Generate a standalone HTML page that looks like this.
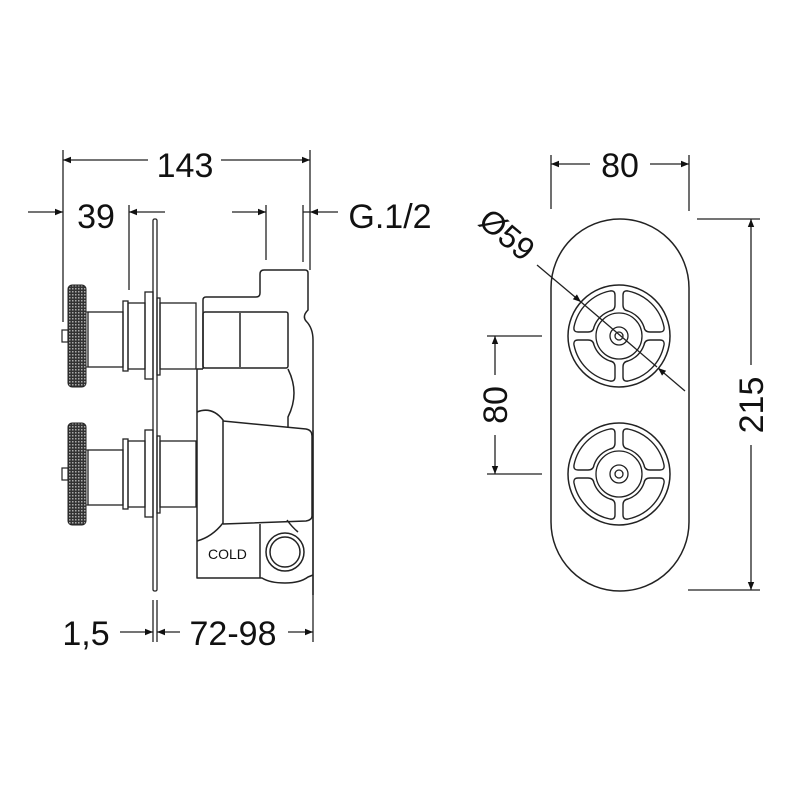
<!DOCTYPE html>
<html><head><meta charset="utf-8"><style>
html,body{margin:0;padding:0;background:#fff;}
svg{display:block;}
text{font-family:"Liberation Sans","DejaVu Sans",sans-serif;fill:#111;}
</style></head><body>
<svg width="800" height="801" viewBox="0 0 800 801" xmlns="http://www.w3.org/2000/svg">
<defs>
<marker id="ar" viewBox="0 0 10 10" refX="10" refY="5" markerWidth="12" markerHeight="8" markerUnits="userSpaceOnUse" orient="auto"><path d="M0,1 L10,5 L0,9 z" fill="#111"/></marker>
<pattern id="kn" width="3" height="3" patternUnits="userSpaceOnUse"><rect width="3" height="3" fill="#333"/><rect x="0" y="0" width="1.5" height="1.5" fill="#aaa"/></pattern>
<g id="win">
<path d="M4,-31 L4,-41 Q4,-45.8 9,-45 A46,46 0 0 1 45,-9 Q45.8,-4 41,-4 L31,-4 Q25.7,-4 25,-9 A26,26 0 0 0 9,-25 Q4,-25.7 4,-31 Z" fill="none" stroke="#222" stroke-width="1.4" stroke-linejoin="round"/>
</g>
<g id="wheel">
<circle r="51" fill="none" stroke="#222" stroke-width="1.5"/>
<use href="#win"/>
<use href="#win" transform="rotate(90)"/>
<use href="#win" transform="rotate(180)"/>
<use href="#win" transform="rotate(270)"/>
<circle r="23" fill="none" stroke="#222" stroke-width="1.3"/>
<circle r="9" fill="#fff" stroke="#222" stroke-width="1.3"/>
<circle r="4" fill="none" stroke="#222" stroke-width="1.3"/>
</g>
<g id="tap">
<rect x="68" y="0" width="18" height="102" rx="4" fill="url(#kn)" stroke="#222" stroke-width="1"/>
<rect x="62" y="45" width="6" height="12" fill="none" stroke="#222" stroke-width="1.2"/>
<rect x="86" y="27" width="2" height="55" fill="none" stroke="#222" stroke-width="1"/>
<rect x="88" y="27" width="35" height="55" fill="none" stroke="#222" stroke-width="1.3"/>
<rect x="123" y="16" width="5" height="70" fill="none" stroke="#222" stroke-width="1.3"/>
<rect x="128" y="18" width="17" height="66" fill="none" stroke="#222" stroke-width="1.3"/>
<rect x="145" y="7" width="8" height="87" fill="none" stroke="#222" stroke-width="1.3"/>
<rect x="157" y="13" width="3" height="77" fill="none" stroke="#222" stroke-width="1.3"/>
<rect x="160" y="18" width="36" height="66" fill="none" stroke="#222" stroke-width="1.3"/>
</g>
</defs>

<g stroke="#222" stroke-width="1.3" fill="none">
<line x1="63" y1="150" x2="63" y2="322"/>
<line x1="310" y1="150" x2="310" y2="270"/>
<line x1="129" y1="205" x2="129" y2="290"/>
<line x1="28" y1="212" x2="63" y2="212" marker-end="url(#ar)"/>
<line x1="165" y1="212" x2="129" y2="212" marker-end="url(#ar)"/>
<line x1="266" y1="205" x2="266" y2="260"/>
<line x1="303" y1="205" x2="303" y2="262"/>
<line x1="232" y1="212" x2="266" y2="212" marker-end="url(#ar)"/>
<line x1="338" y1="212" x2="310" y2="212" marker-end="url(#ar)"/>
<line x1="303" y1="212" x2="310" y2="212"/>
<line x1="313" y1="430" x2="313" y2="642"/>
<line x1="153" y1="600" x2="153" y2="642"/>
<line x1="157" y1="600" x2="157" y2="642"/>
<line x1="120" y1="632" x2="153" y2="632" marker-end="url(#ar)"/>
<line x1="180" y1="632" x2="157" y2="632" marker-end="url(#ar)"/>
<line x1="288" y1="632" x2="313" y2="632" marker-end="url(#ar)"/>
</g>
<line x1="148" y1="160" x2="63" y2="160" stroke="#222" stroke-width="1.3" marker-end="url(#ar)"/>
<line x1="221" y1="160" x2="310" y2="160" stroke="#222" stroke-width="1.3" marker-end="url(#ar)"/>

<text x="185" y="177" font-size="34" text-anchor="middle">143</text>
<text x="96" y="228" font-size="34" text-anchor="middle">39</text>
<text x="390" y="228" font-size="34" text-anchor="middle">G.1/2</text>
<text x="86" y="645" font-size="34" text-anchor="middle">1,5</text>
<text x="233" y="645" font-size="34" text-anchor="middle">72-98</text>

<rect x="153" y="219" width="4" height="372" rx="1.5" fill="none" stroke="#222" stroke-width="1.3"/>

<g stroke="#222" stroke-width="1.5" fill="none" stroke-linejoin="round">
<path d="M203,369 L203,300 Q203,297 206,297 L256,297 Q260,297 260,293 L260,274 Q260,270 264,270 L305,270 Q308,270 308,273 L308,310 Q302,316 306,321 Q313,328 313,340 L313,595"/>
<path d="M203,369 L197,369 L197,578 L262,578 Q270,583 285,583 Q300,583 308,577 L313,575"/>
<rect x="203" y="312" width="85" height="56" rx="2"/>
<line x1="240" y1="313" x2="240" y2="367"/>
<path d="M288,369 Q300,393 288,417 L288,428"/>
<path d="M197,412 Q212,406 223,420 L223,523 Q212,537 197,541"/>
<path d="M223,421 L306,429 Q312,430 312,436 L312,516 Q312,520 306,521 L223,524"/>
<path d="M260,524 L260,578"/>
<path d="M287,520 Q292,527 298,532"/>
<circle cx="285" cy="552" r="19"/>
<circle cx="285" cy="552" r="15"/>
</g>
<text x="208" y="559" font-size="14">COLD</text>

<use href="#tap" transform="translate(0,285)"/>
<use href="#tap" transform="translate(0,423)"/>

<rect x="551" y="219" width="138" height="372" rx="69" fill="none" stroke="#222" stroke-width="1.5"/>
<use href="#wheel" transform="translate(619,336)"/>
<use href="#wheel" transform="translate(619,474)"/>

<g stroke="#222" stroke-width="1.3" fill="none">
<line x1="551" y1="155" x2="551" y2="209"/>
<line x1="689" y1="155" x2="689" y2="211"/>
<line x1="590" y1="164" x2="551" y2="164" marker-end="url(#ar)"/>
<line x1="650" y1="164" x2="689" y2="164" marker-end="url(#ar)"/>
<line x1="697" y1="219" x2="760" y2="219"/>
<line x1="688" y1="590" x2="760" y2="590"/>
<line x1="751" y1="365" x2="751" y2="219" marker-end="url(#ar)"/>
<line x1="751" y1="445" x2="751" y2="590" marker-end="url(#ar)"/>
<line x1="487" y1="336" x2="542" y2="336"/>
<line x1="487" y1="474" x2="542" y2="474"/>
<line x1="495" y1="375" x2="495" y2="336" marker-end="url(#ar)"/>
<line x1="495" y1="435" x2="495" y2="474" marker-end="url(#ar)"/>
<line x1="537" y1="265" x2="581" y2="302" marker-end="url(#ar)"/>
<line x1="581" y1="302" x2="657" y2="367"/>
<line x1="685" y1="391" x2="658" y2="368" marker-end="url(#ar)"/>
</g>
<text x="620" y="177" font-size="34" text-anchor="middle">80</text>
<text transform="translate(763,405) rotate(-90)" font-size="34" text-anchor="middle">215</text>
<text transform="translate(507,405) rotate(-90)" font-size="34" text-anchor="middle">80</text>
<text transform="translate(500,243) rotate(40)" font-size="32" text-anchor="middle">Ø59</text>
</svg>
</body></html>
